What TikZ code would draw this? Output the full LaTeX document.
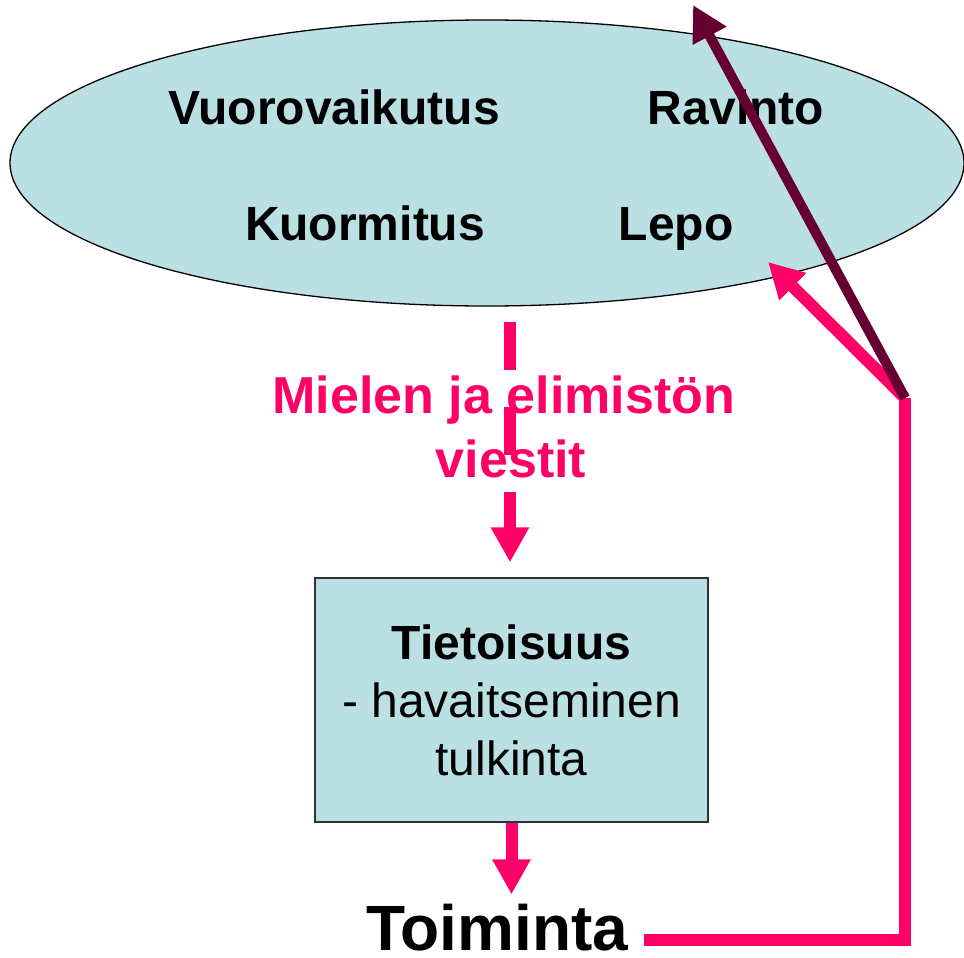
\documentclass[tikz,border=0pt]{standalone}
\usepackage{fontspec}
\setmainfont{Liberation Sans}
\usetikzlibrary{arrows.meta,shapes.geometric}
\definecolor{cyanfill}{RGB}{187,224,227}
\definecolor{pinkc}{RGB}{255,0,102}
\definecolor{darkc}{RGB}{102,0,51}
\begin{document}
\begin{tikzpicture}[x=1pt,y=-1pt,
  oval/.style={ellipse,draw=black,line width=1.3pt,fill=cyanfill,minimum width=954pt,minimum height=286pt,inner sep=0pt},
  word/.style={font=\fontsize{48}{58}\selectfont\bfseries,inner sep=0pt,anchor=base},
  msg/.style={font=\fontsize{52}{64}\selectfont\bfseries,text=pinkc,align=center,inner sep=0pt,anchor=base},
  infobox/.style={rectangle,draw=black!80,line width=1.3pt,fill=cyanfill,minimum width=393pt,minimum height=244pt,inner sep=0pt,align=center,font=\fontsize{48}{58}\selectfont},
  actword/.style={font=\fontsize{64}{70}\selectfont\bfseries,inner sep=0pt,anchor=base},
  pinkarrow/.style={draw=pinkc,line width=12pt,-{Triangle[length=35pt,width=36pt]}},
  pinkline/.style={draw=pinkc,line width=12pt,line join=miter},
  darkarrow/.style={draw=darkc,line width=10pt,-{Triangle[length=35pt,width=36pt]}}
]
\useasboundingbox (0,0) rectangle (964,958);
\node[oval] (ell) at (487,163) {};
\node[word] (vuoro) at (334,124) {Vuorovaikutus};
\node[word] (ravinto) at (736,124) {Ravinto};
\node[word] (kuorm) at (365,240) {Kuormitus};
\node[word] (lepo) at (676,240) {Lepo};
\node[msg] (viestit) at (511,477) {Mielen ja elimistön\hspace*{14.5pt}\\viestit};
\node[infobox] (box) at (511.5,700) {\textbf{Tietoisuus}\\- havaitseminen\\tulkinta};
\node[actword] (toim) at (497,950) {Toiminta};
\coordinate (dtop) at (510,322);
\coordinate (fbB) at (905,940);
\coordinate (fork) at (905,398);
\coordinate (lepotip) at (768,262);
\coordinate (toptip) at (693,5);
\draw[pinkarrow,dash pattern=on 48pt off 37pt,shorten >=15pt] (dtop) -- (dtop |- box.north);
\draw[pinkarrow,shorten >=9pt] (box.south) -- (box.south |- toim.north);
\draw[pinkline] ([xshift=16pt,yshift=10pt]toim.base east) -- (fbB) -- (fork);
\draw[pinkarrow] (fork) -- (lepotip);
\draw[darkarrow] (fork) -- (toptip);
\end{tikzpicture}
\end{document}
